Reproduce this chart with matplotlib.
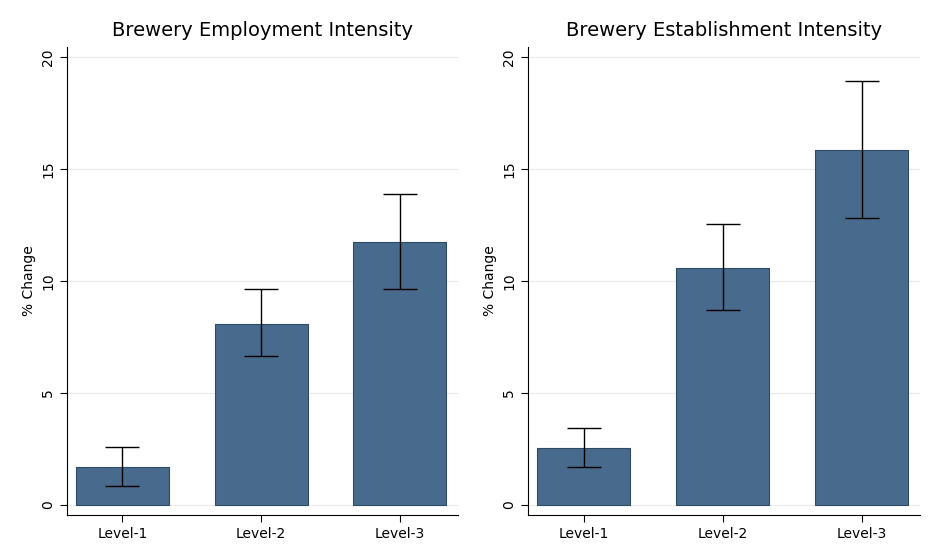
import matplotlib
matplotlib.use("Agg")
import matplotlib.pyplot as plt
import numpy as np

levels = ["Level-1", "Level-2", "Level-3"]
emp_vals = [1.7, 8.1, 11.75]
emp_lo = [0.85, 6.65, 9.65]
emp_hi = [2.6, 9.65, 13.9]
est_vals = [2.55, 10.6, 15.85]
est_lo = [1.7, 8.7, 12.8]
est_hi = [3.45, 12.55, 18.95]

BAR = "#486a8c"
fig = plt.figure(figsize=(9.47, 5.58), dpi=100)
fig.patch.set_facecolor("white")

panels = [
    ([0.0708, 0.0771, 0.4128, 0.8387], "Brewery Employment Intensity", emp_vals, emp_lo, emp_hi),
    ([0.5575, 0.0771, 0.4140, 0.8387], "Brewery Establishment Intensity", est_vals, est_lo, est_hi),
]
for rect, title, vals, lo, hi in panels:
    ax = fig.add_axes(rect)
    x = np.arange(len(levels))
    ax.bar(x, vals, width=0.67, color=BAR, edgecolor="#2f4a63", linewidth=0.8, zorder=2)
    vals_a = np.array(vals)
    yerr = [vals_a - np.array(lo), np.array(hi) - vals_a]
    ax.errorbar(x, vals, yerr=yerr, fmt="none", ecolor="black", elinewidth=1,
                capsize=12, capthick=1, zorder=3)
    ax.set_xlim(-0.4, 2.42)
    ax.set_ylim(-0.45, 20.45)
    ax.set_yticks([0, 5, 10, 15, 20])
    ax.set_yticklabels(["0", "5", "10", "15", "20"], rotation=90, va="center")
    ax.set_xticks(x)
    ax.set_xticklabels(levels)
    ax.tick_params(labelsize=10, length=5)
    ax.grid(axis="y", color="#eaeaea", linewidth=0.8, zorder=0)
    ax.set_axisbelow(True)
    for s in ["top", "right"]:
        ax.spines[s].set_visible(False)
    ax.set_ylabel("% Change", fontsize=10)
    ax.set_title(title, fontsize=14, pad=8)

fig.savefig("out.png", dpi=100, facecolor="white")
